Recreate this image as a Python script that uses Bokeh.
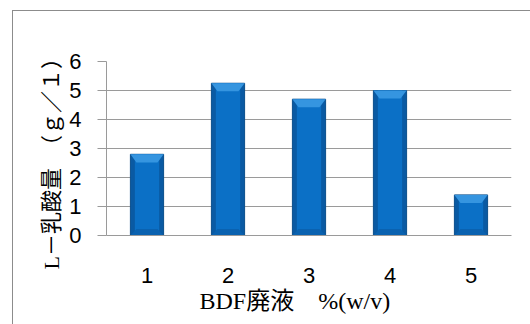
from bokeh.plotting import figure
from bokeh.models import ColumnDataSource, FixedTicker, Title
from bokeh.embed import file_html
from bokeh.resources import INLINE

categories = ["1", "2", "3", "4", "5"]
values = [2.8, 5.25, 4.7, 5.0, 1.4]
y_ticks = [0, 1, 2, 3, 4, 5, 6]
x_title = "BDF廃液\u3000%(w/v)"
y_title = "L－乳酸量\u3000（ｇ／１）"

# bar styling constants (in data / category units)
HALF = 0.205
INNER = 0.13
BEVEL = 0.28

src = ColumnDataSource(dict(cat=categories, val=values))

top_xs, top_ys, bot_xs, bot_ys = [], [], [], []
for i, v in enumerate(values):
    c = i + 0.5
    top_xs.append([c - HALF, c + HALF, c + INNER, c - INNER])
    top_ys.append([v, v, v - BEVEL, v - BEVEL])
    bot_xs.append([c - HALF, c + HALF, c + INNER, c - INNER])
    bot_ys.append([0, 0, min(BEVEL * 0.8, v / 2), min(BEVEL * 0.8, v / 2)])

p = figure(x_range=categories, y_range=(0, 6), width=518, height=314,
           output_backend="svg", toolbar_location=None,
           min_border_left=93, min_border_right=20, min_border_top=50, min_border_bottom=90)
p.margin = (10, 0, 0, 12)
p.styles = {"border-left": "1px solid #8c8c8c", "border-top": "1px solid #8c8c8c"}
p.outline_line_color = None
p.background_fill_color = "white"

p.vbar(x="cat", top="val", width=2 * HALF, source=src, fill_color="#0a5aa3", line_color="#0b4f8c", line_width=1)
p.vbar(x="cat", top="val", width=2 * INNER + 0.04, source=src, fill_color="#0b70c6", line_color=None)
p.patches(top_xs, top_ys, fill_color="#3595e0", line_color=None)
p.patches(bot_xs, bot_ys, fill_color="#0a62b0", line_color=None)

p.xgrid.grid_line_color = None
p.ygrid.grid_line_color = "#9a9a9a"
p.ygrid.ticker = FixedTicker(ticks=y_ticks)

p.yaxis.ticker = FixedTicker(ticks=y_ticks)
p.yaxis.axis_line_color = "#9a9a9a"
p.yaxis.major_tick_line_color = "#9a9a9a"
p.yaxis.major_tick_out = 9
p.yaxis.major_tick_in = 0
p.yaxis.minor_tick_line_color = None
p.yaxis.major_label_standoff = 16
p.yaxis.major_label_text_font = "Liberation Sans"
p.yaxis.major_label_text_font_size = "22px"
p.yaxis.major_label_text_color = "black"

p.xaxis.axis_line_color = "#9a9a9a"
p.xaxis.major_tick_line_color = None
p.xaxis.major_label_standoff = 26
p.xaxis.major_label_text_font = "Liberation Sans"
p.xaxis.major_label_text_font_size = "22px"
p.xaxis.major_label_text_color = "black"

yt = Title(text=y_title, align="left", offset=-34, standoff=6,
           text_font="Liberation Serif, Noto Sans CJK JP", text_font_size="22px",
           text_font_style="normal", text_color="black")
p.add_layout(yt, "left")

xt = Title(text=x_title, align="left", offset=93, standoff=0,
           text_font="Liberation Serif, Noto Sans CJK JP", text_font_size="24px",
           text_font_style="normal", text_color="black")
p.add_layout(xt, "below")

open("out.html", "w").write(file_html(p, INLINE))
